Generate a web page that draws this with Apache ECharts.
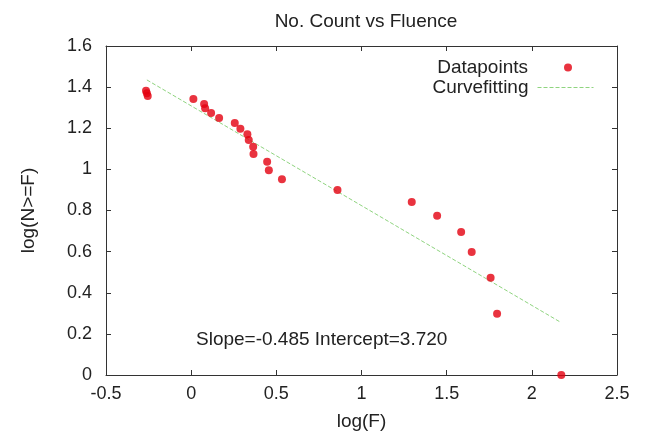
<!DOCTYPE html>
<html>
<head>
<meta charset="utf-8">
<script src="https://cdn.jsdelivr.net/npm/echarts@6/dist/echarts.min.js"></script>
<style>html,body{margin:0;padding:0;background:#fff}#c{width:645px;height:438px}</style>
</head>
<body>
<div id="c"></div>
<script>
// Data
var logF = [-0.265, -0.26, -0.255, 0.013, 0.076, 0.082, 0.117, 0.164, 0.256, 0.289, 0.330, 0.338, 0.364, 0.366, 0.446, 0.456, 0.533, 0.859, 1.295, 1.444, 1.585, 1.647, 1.758, 1.796, 2.173];
var logN = [1.382, 1.370, 1.357, 1.342, 1.318, 1.297, 1.274, 1.250, 1.226, 1.198, 1.171, 1.143, 1.110, 1.075, 1.037, 0.996, 0.952, 0.900, 0.841, 0.775, 0.696, 0.598, 0.473, 0.298, 0.000];
var fitX = [-0.26, 2.17];
var fitY = [1.435, 0.256];
var titleText = 'No. Count vs Fluence';
var annotation = 'Slope=-0.485 Intercept=3.720';

var FONT = "'Liberation Sans', Arial, sans-serif";
var chart = echarts.init(document.getElementById('c'), null, {renderer: 'canvas'});

function pairs(a, b) { return a.map(function (v, i) { return [v, b[i]]; }); }

var axisLineStyle = {color: '#333', width: 1};
var tickCfg = {show: true, inside: true, length: 5, lineStyle: {color: '#333'}};

chart.setOption({
  animation: false,
  backgroundColor: '#fff',
  textStyle: {fontFamily: FONT},
  title: [
    {text: titleText, left: 361, top: 7, textAlign: 'center',
     textStyle: {fontFamily: FONT, fontSize: 19, fontWeight: 'normal', color: '#222'}},
    {text: annotation, left: 191, top: 325,
     textStyle: {fontFamily: FONT, fontSize: 19, fontWeight: 'normal', color: '#222'}}
  ],
  legend: [
    {data: ['Datapoints'], orient: 'vertical', align: 'right', right: 68, top: 53,
     itemWidth: 8, itemHeight: 8, icon: 'circle',
     textStyle: {fontFamily: FONT, fontSize: 19, color: '#222', padding: [0, 31, 0, 0]}},
    {data: ['Curvefitting'], orient: 'vertical', align: 'right', right: 46, top: 73,
     itemWidth: 56, itemHeight: 10,
     itemStyle: {opacity: 0},
     lineStyle: {color: '#8fd47f', width: 1, type: [4, 2]},
     textStyle: {fontFamily: FONT, fontSize: 19, color: '#222', padding: [0, 4, 0, 0]}}
  ],
  grid: {left: 106, right: 28, top: 46, bottom: 63, containLabel: false},
  xAxis: [
    {type: 'value', min: -0.5, max: 2.5, interval: 0.5, position: 'bottom',
     name: 'log(F)', nameLocation: 'middle', nameGap: 37,
     nameTextStyle: {fontFamily: FONT, fontSize: 19, color: '#222'},
     axisLine: {show: true, onZero: false, lineStyle: axisLineStyle},
     axisTick: tickCfg, splitLine: {show: false},
     axisLabel: {fontFamily: FONT, fontSize: 18, color: '#222', margin: 10}},
    {type: 'value', min: -0.5, max: 2.5, interval: 0.5, position: 'top',
     axisLine: {show: true, onZero: false, lineStyle: axisLineStyle},
     axisTick: tickCfg, splitLine: {show: false}, axisLabel: {show: false}}
  ],
  yAxis: [
    {type: 'value', min: 0, max: 1.6, interval: 0.2, position: 'left',
     name: 'log(N>=F)', nameLocation: 'middle', nameGap: 68,
     nameTextStyle: {fontFamily: FONT, fontSize: 19, color: '#222'},
     axisLine: {show: true, onZero: false, lineStyle: axisLineStyle},
     axisTick: tickCfg, splitLine: {show: false},
     axisLabel: {fontFamily: FONT, fontSize: 18, color: '#222', margin: 14}},
    {type: 'value', min: 0, max: 1.6, interval: 0.2, position: 'right',
     axisLine: {show: true, onZero: false, lineStyle: axisLineStyle},
     axisTick: tickCfg, splitLine: {show: false}, axisLabel: {show: false}}
  ],
  series: [
    {name: 'Datapoints', type: 'scatter', xAxisIndex: 0, yAxisIndex: 0,
     data: pairs(logF, logN), symbol: 'circle', symbolSize: 8, clip: false,
     itemStyle: {color: '#e3000f'}, z: 3},
    {name: 'Curvefitting', type: 'line', xAxisIndex: 0, yAxisIndex: 0,
     data: pairs(fitX, fitY), showSymbol: false, symbol: 'none',
     lineStyle: {color: '#8fd47f', width: 1, type: [4, 2]},
     itemStyle: {color: '#8fd47f'}, z: 2}
  ]
});
</script>
</body>
</html>
